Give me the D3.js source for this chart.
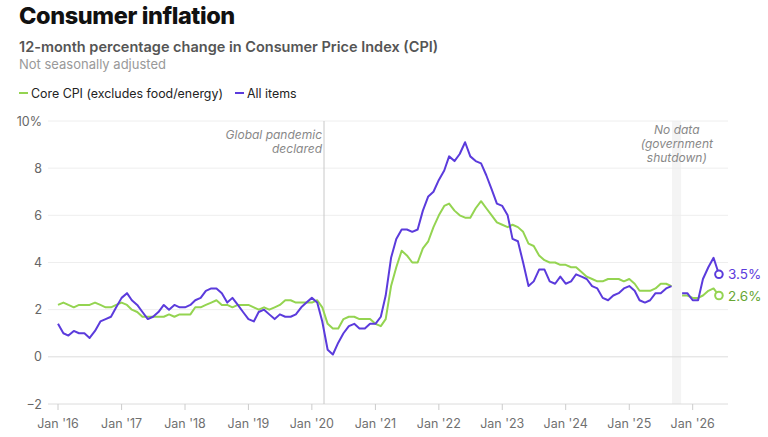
<!DOCTYPE html>
<html>
<head>
<meta charset="utf-8">
<script src="https://cdn.jsdelivr.net/npm/d3@7"></script>
<style>
  body { margin: 0; background: #fff; }
  svg { display: block; font-family: Inter, "Noto Sans", sans-serif; }
</style>
</head>
<body>
<svg id="chart" width="768" height="437"></svg>
<script>
// Monthly 12-month % change, Jan 2016 .. Jun 2026 (null = no data)
const firstMonth = new Date(2016, 0, 1);
const allItems = [
  1.4, 1.0, 0.9, 1.1, 1.0, 1.0, 0.8, 1.1, 1.5, 1.6, 1.7, 2.1,
  2.5, 2.7, 2.4, 2.2, 1.9, 1.6, 1.7, 1.9, 2.2, 2.0, 2.2, 2.1,
  2.1, 2.2, 2.4, 2.5, 2.8, 2.9, 2.9, 2.7, 2.3, 2.5, 2.2, 1.9,
  1.6, 1.5, 1.9, 2.0, 1.8, 1.6, 1.8, 1.7, 1.7, 1.8, 2.1, 2.3,
  2.5, 2.3, 1.5, 0.3, 0.1, 0.6, 1.0, 1.3, 1.4, 1.2, 1.2, 1.4,
  1.4, 1.7, 2.6, 4.2, 5.0, 5.4, 5.4, 5.3, 5.4, 6.2, 6.8, 7.0,
  7.5, 7.9, 8.5, 8.3, 8.6, 9.1, 8.5, 8.3, 8.2, 7.7, 7.1, 6.5,
  6.4, 6.0, 5.0, 4.9, 4.0, 3.0, 3.2, 3.7, 3.7, 3.2, 3.1, 3.4,
  3.1, 3.2, 3.5, 3.4, 3.3, 3.0, 2.9, 2.5, 2.4, 2.6, 2.7, 2.9,
  3.0, 2.8, 2.4, 2.3, 2.4, 2.7, 2.7, 2.9, 3.0, null, 2.7, 2.7,
  2.4, 2.4, 3.3, 3.8, 4.2, 3.5
];
const coreCPI = [
  2.2, 2.3, 2.2, 2.1, 2.2, 2.2, 2.2, 2.3, 2.2, 2.1, 2.1, 2.2,
  2.3, 2.2, 2.0, 1.9, 1.7, 1.7, 1.7, 1.7, 1.7, 1.8, 1.7, 1.8,
  1.8, 1.8, 2.1, 2.1, 2.2, 2.3, 2.4, 2.2, 2.2, 2.1, 2.2, 2.2,
  2.2, 2.1, 2.0, 2.1, 2.0, 2.1, 2.2, 2.4, 2.4, 2.3, 2.3, 2.3,
  2.3, 2.4, 2.1, 1.4, 1.2, 1.2, 1.6, 1.7, 1.7, 1.6, 1.6, 1.6,
  1.4, 1.3, 1.6, 3.0, 3.8, 4.5, 4.3, 4.0, 4.0, 4.6, 4.9, 5.5,
  6.0, 6.4, 6.5, 6.2, 6.0, 5.9, 5.9, 6.3, 6.6, 6.3, 6.0, 5.7,
  5.6, 5.5, 5.6, 5.5, 5.3, 4.8, 4.7, 4.3, 4.1, 4.0, 4.0, 3.9,
  3.9, 3.8, 3.8, 3.6, 3.4, 3.3, 3.2, 3.2, 3.3, 3.3, 3.3, 3.2,
  3.3, 3.1, 2.8, 2.8, 2.8, 2.9, 3.1, 3.1, 3.0, null, 2.6, 2.6,
  2.5, 2.5, 2.6, 2.8, 2.9, 2.6
];
const yTicks = [-2, 0, 2, 4, 6, 8, 10];
const xTickYears = [2016, 2017, 2018, 2019, 2020, 2021, 2022, 2023, 2024, 2025, 2026];
const pandemicDate = new Date(2020, 2, 11);
const shutdownStart = new Date(2025, 8, 1);
const shutdownEnd = new Date(2025, 10, 1);

const purple = "#5b3bdc";
const green = "#94d451";
const greenLabel = "#67a632";

const svg = d3.select("#chart");

// Titles
svg.append("text").attr("x", 19).attr("y", 24)
  .style("font-size", "23.5px").style("font-weight", 800).style("fill", "#111")
  .style("letter-spacing", "-0.4px")
  .text("Consumer inflation");
svg.append("text").attr("x", 19).attr("y", 52)
  .style("font-size", "14.5px").style("font-weight", 600).style("fill", "#555")
  .text("12-month percentage change in Consumer Price Index (CPI)");
svg.append("text").attr("x", 19).attr("y", 69)
  .style("font-size", "13px").style("fill", "#999")
  .text("Not seasonally adjusted");

// Legend
const legend = [
  { label: "Core CPI (excludes food/energy)", color: green, x: 19 },
  { label: "All items", color: purple, x: 235 }
];
legend.forEach(d => {
  svg.append("line").attr("x1", d.x).attr("x2", d.x + 9).attr("y1", 93).attr("y2", 93)
    .attr("stroke", d.color).attr("stroke-width", 2);
  svg.append("text").attr("x", d.x + 12).attr("y", 97.5)
    .style("font-size", "12.4px").style("fill", "#222").text(d.label);
});

// Scales
const x = d3.scaleTime()
  .domain([new Date(2016, 0, 1), new Date(2026, 0, 1)])
  .range([58, 692.7]);
const y = d3.scaleLinear().domain([-2, 10]).range([404, 121]);
const gridLeft = 48, gridRight = 728;

// Shutdown band
svg.append("rect")
  .attr("x", x(shutdownStart) + 0.5)
  .attr("width", x(shutdownEnd) - x(shutdownStart) - 1.5)
  .attr("y", y(10)).attr("height", y(-2) - y(10))
  .attr("fill", "#f4f4f4");

// Gridlines + y labels
svg.append("g").selectAll("line").data(yTicks).join("line")
  .attr("x1", gridLeft).attr("x2", gridRight)
  .attr("y1", d => y(d)).attr("y2", d => y(d))
  .attr("stroke", d => d === 0 || d === -2 ? "#dcdcdc" : "#eeeeee")
  .attr("stroke-width", 1);
svg.append("g").selectAll("text").data(yTicks).join("text")
  .attr("x", 42).attr("y", d => y(d) + 4.5)
  .attr("text-anchor", "end")
  .style("font-size", "12.5px").style("fill", "#666")
  .text(d => d === 10 ? "10%" : (d < 0 ? "\u2212" + Math.abs(d) : d));

// X axis ticks
const xTickDates = xTickYears.map(yr => new Date(yr, 0, 1));
svg.append("g").selectAll("line").data(xTickDates).join("line")
  .attr("x1", d => x(d)).attr("x2", d => x(d))
  .attr("y1", y(-2)).attr("y2", y(-2) + 6)
  .attr("stroke", "#cccccc");
svg.append("g").selectAll("text").data(xTickDates).join("text")
  .attr("x", d => x(d)).attr("y", 428)
  .attr("text-anchor", "middle")
  .style("font-size", "12.5px").style("fill", "#707070")
  .text(d => "Jan '" + d3.timeFormat("%y")(d));

// Pandemic line + note
svg.append("line")
  .attr("x1", x(pandemicDate)).attr("x2", x(pandemicDate))
  .attr("y1", y(10)).attr("y2", y(-2))
  .attr("stroke", "#c8c8c8").attr("stroke-width", 1);
const pNote = svg.append("text").attr("text-anchor", "end")
  .style("font-size", "12px").style("font-style", "italic").style("fill", "#888");
pNote.append("tspan").attr("x", x(pandemicDate) - 2).attr("y", 139).text("Global pandemic");
pNote.append("tspan").attr("x", x(pandemicDate) - 2).attr("y", 153).text("declared");

// Shutdown note
const sMid = (x(shutdownStart) + x(shutdownEnd)) / 2;
const sNote = svg.append("text").attr("text-anchor", "middle")
  .style("font-size", "12px").style("font-style", "italic").style("fill", "#888");
["No data", "(government", "shutdown)"].forEach((t, i) => {
  sNote.append("tspan").attr("x", sMid).attr("y", 134 + i * 14).text(t);
});

// Lines
const monthDate = i => d3.timeMonth.offset(firstMonth, i);
const line = d3.line()
  .defined(d => d != null)
  .x((d, i) => x(monthDate(i)))
  .y(d => y(d));

const series = [
  { values: coreCPI, color: green, labelColor: greenLabel },
  { values: allItems, color: purple, labelColor: purple }
];
series.forEach(s => {
  svg.append("path").datum(s.values)
    .attr("fill", "none").attr("stroke", s.color)
    .attr("stroke-width", 2).attr("stroke-linejoin", "round")
    .attr("d", line);
  const last = s.values.length - 1;
  svg.append("circle")
    .attr("cx", x(monthDate(last))).attr("cy", y(s.values[last]))
    .attr("r", 3.8).attr("fill", "#fff")
    .attr("stroke", s.color).attr("stroke-width", 2);
  svg.append("text")
    .attr("x", 728).attr("y", y(s.values[last]) + 5)
    .style("font-size", "13.5px").style("fill", s.labelColor)
    .text(s.values[last].toFixed(1) + "%");
});
</script>
</body>
</html>
